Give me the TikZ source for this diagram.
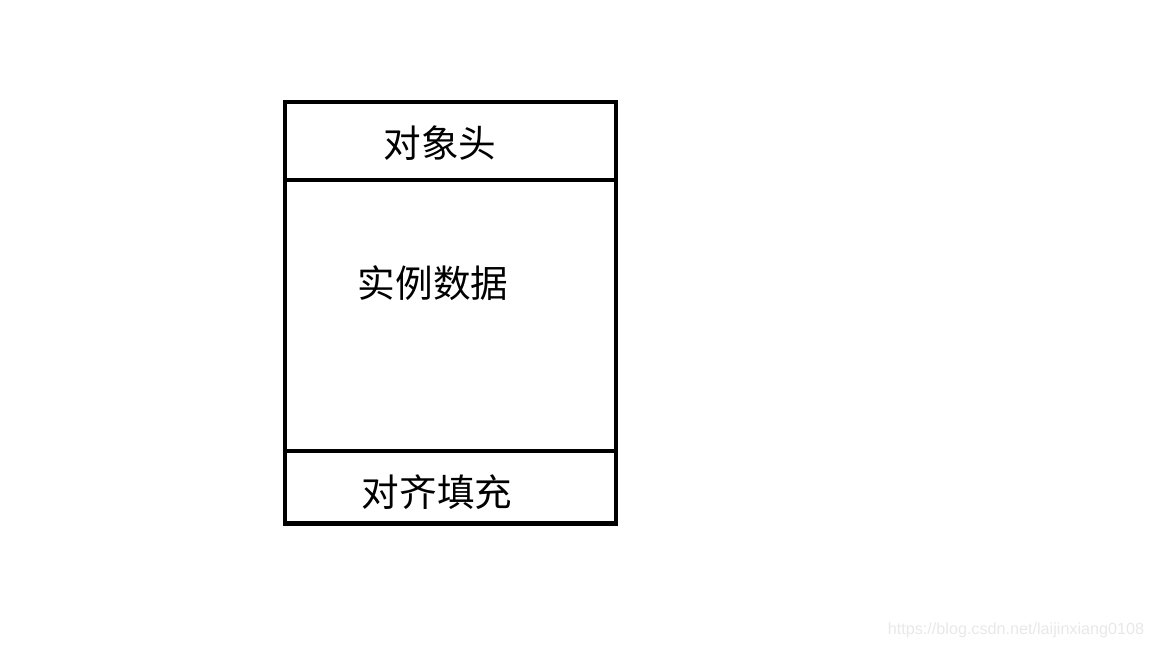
\documentclass[tikz,border=0pt]{standalone}
\usepackage{fontspec}
\newfontfamily\cjk{Noto Sans CJK SC}
\newfontfamily\wmfont{Liberation Sans}
\usetikzlibrary{positioning}

\begin{document}
\begin{tikzpicture}[x=0.01cm, y=-0.01cm,
        part/.style={draw, rectangle, line width=1.3pt, minimum width=3.31cm, outer sep=0pt, inner sep=0pt},
        label/.style={font=\cjk\fontsize{10.7}{12}\selectfont, inner sep=0pt}
    ]
        \useasboundingbox (0,0) rectangle (1152,648);
        \node [part, minimum height=0.78cm] (head) at (450.5,141) {};
        \node [part, minimum height=2.71cm, below=0pt of head] (data) {};
        \node [part, minimum height=0.72cm, below=0pt of data] (pad) {};

        \node [label] (headtext) at (440,143) {对象头};
        \node [label] (datatext) at (433,283) {实例数据};
        \node [label] (padtext) at (437,492) {对齐填充};

        % watermark
        \node [font=\wmfont\fontsize{4.6}{5}\selectfont, text=black!9, inner sep=0pt] (mark) at (1016,630) {https://blog.csdn.net/laijinxiang0108};
    \end{tikzpicture}
\end{document}
